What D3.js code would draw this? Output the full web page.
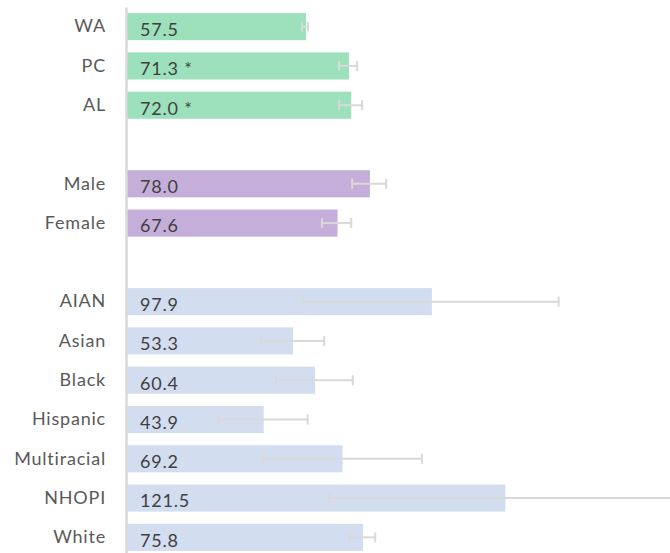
<!DOCTYPE html>
<html lang="en">
  <head>
    <meta charset="utf-8">
    <title>Rates by group</title>
    <script src="https://d3js.org/d3.v7.js"></script>
    <style>
      body { margin: 0; background: #fff; }
      text { font-family: Lato, "Noto Sans", sans-serif; letter-spacing: 0.8px; }
    </style>
  </head>

  <body>
    <svg></svg>

  <script>

// data

  const labels = ["WA", "PC", "AL", "Male", "Female", "AIAN", "Asian", "Black",
      "Hispanic", "Multiracial", "NHOPI", "White"];
  const groups = ["region", "region", "region", "sex", "sex", "race", "race", "race",
      "race", "race", "race", "race"];
  const values = [57.5, 71.3, 72.0, 78.0, 67.6, 97.9, 53.3, 60.4, 43.9, 69.2, 121.5, 75.8];
  const flags = ["", "*", "*", "", "", "", "", "", "", "", "", ""];
  const ciLow = [56.2, 68.1, 68.1, 72.3, 62.6, 56.7, 42.9, 47.9, 29.4, 43.4, 64.9, 71.5];
  const ciHigh = [58.1, 73.9, 75.5, 83.2, 72.0, 138.6, 63.3, 72.5, 58.0, 94.7, 190.0, 79.7];

  const groupColor = {region: "#9de0bc", sex: "#c5aed9", race: "#d3ddf0"};

  const w = 670;
  const h = 553;

// rows, with a blank slot between groups

  const rows = labels.map((d, i) => ({
      label: d, group: groups[i], value: values[i], flag: flags[i],
      lo: ciLow[i], hi: ciHigh[i]}));

  const slots = [];
  rows.forEach((d, i) => {
    if (i > 0 && d.group !== rows[i - 1].group) slots.push("gap" + i);
    slots.push(d.label);
  });

  const svg = d3.select("svg")
      .attr("width", w)
      .attr("height", h);

  const xScale = d3.scaleLinear()
      .domain([0, 175])
      .range([127, 672]);

  const yScale = d3.scaleBand()
      .domain(slots)
      .range([7, 557])
      .paddingInner(0.31)
      .paddingOuter(0.155);

  const yAxis = d3.axisLeft(yScale)
      .tickSize(0)
      .tickSizeOuter(0)
      .tickPadding(20)
      .tickFormat(d => d.startsWith("gap") ? "" : d);

// bars

  svg.append("g")
      .selectAll("rect")
      .data(rows)
      .join("rect")
      .attr("x", xScale(0))
      .attr("y", d => yScale(d.label))
      .attr("width", d => xScale(d.value) - xScale(0))
      .attr("height", yScale.bandwidth())
      .attr("fill", d => groupColor[d.group]);

// error bars

  const err = svg.append("g")
      .attr("stroke", "#d9d9d9")
      .attr("stroke-width", 2)
    .selectAll("g")
      .data(rows)
      .join("g")
      .attr("transform", d => `translate(0, ${yScale(d.label) + yScale.bandwidth() / 2})`);

  err.append("line")
      .attr("x1", d => xScale(d.lo))
      .attr("x2", d => xScale(d.hi));

  err.append("line")
      .attr("x1", d => xScale(d.lo))
      .attr("x2", d => xScale(d.lo))
      .attr("y1", -5)
      .attr("y2", 5);

  err.append("line")
      .attr("x1", d => xScale(d.hi))
      .attr("x2", d => xScale(d.hi))
      .attr("y1", -5)
      .attr("y2", 5);

// value labels

  svg.append("g")
      .selectAll("text")
      .data(rows)
      .join("text")
      .attr("x", xScale(0) + 13)
      .attr("y", d => yScale(d.label) + yScale.bandwidth() / 2 + 3)
      .attr("dy", "0.35em")
      .attr("font-size", 18)
      .attr("fill", "#404040")
      .text(d => d.value.toFixed(1) + (d.flag ? " " + d.flag : ""));

// axis

  const axis = svg.append("g")
      .attr("transform", "translate(126, 0)")
      .call(yAxis);

  axis.select(".domain")
      .attr("stroke", "#d9d9d9")
      .attr("stroke-width", 2.5);

  axis.selectAll("text")
      .attr("font-family", "Lato, 'Noto Sans', sans-serif")
      .attr("font-size", 18)
      .attr("fill", "#595959");

    </script>

  </body>

</html>
